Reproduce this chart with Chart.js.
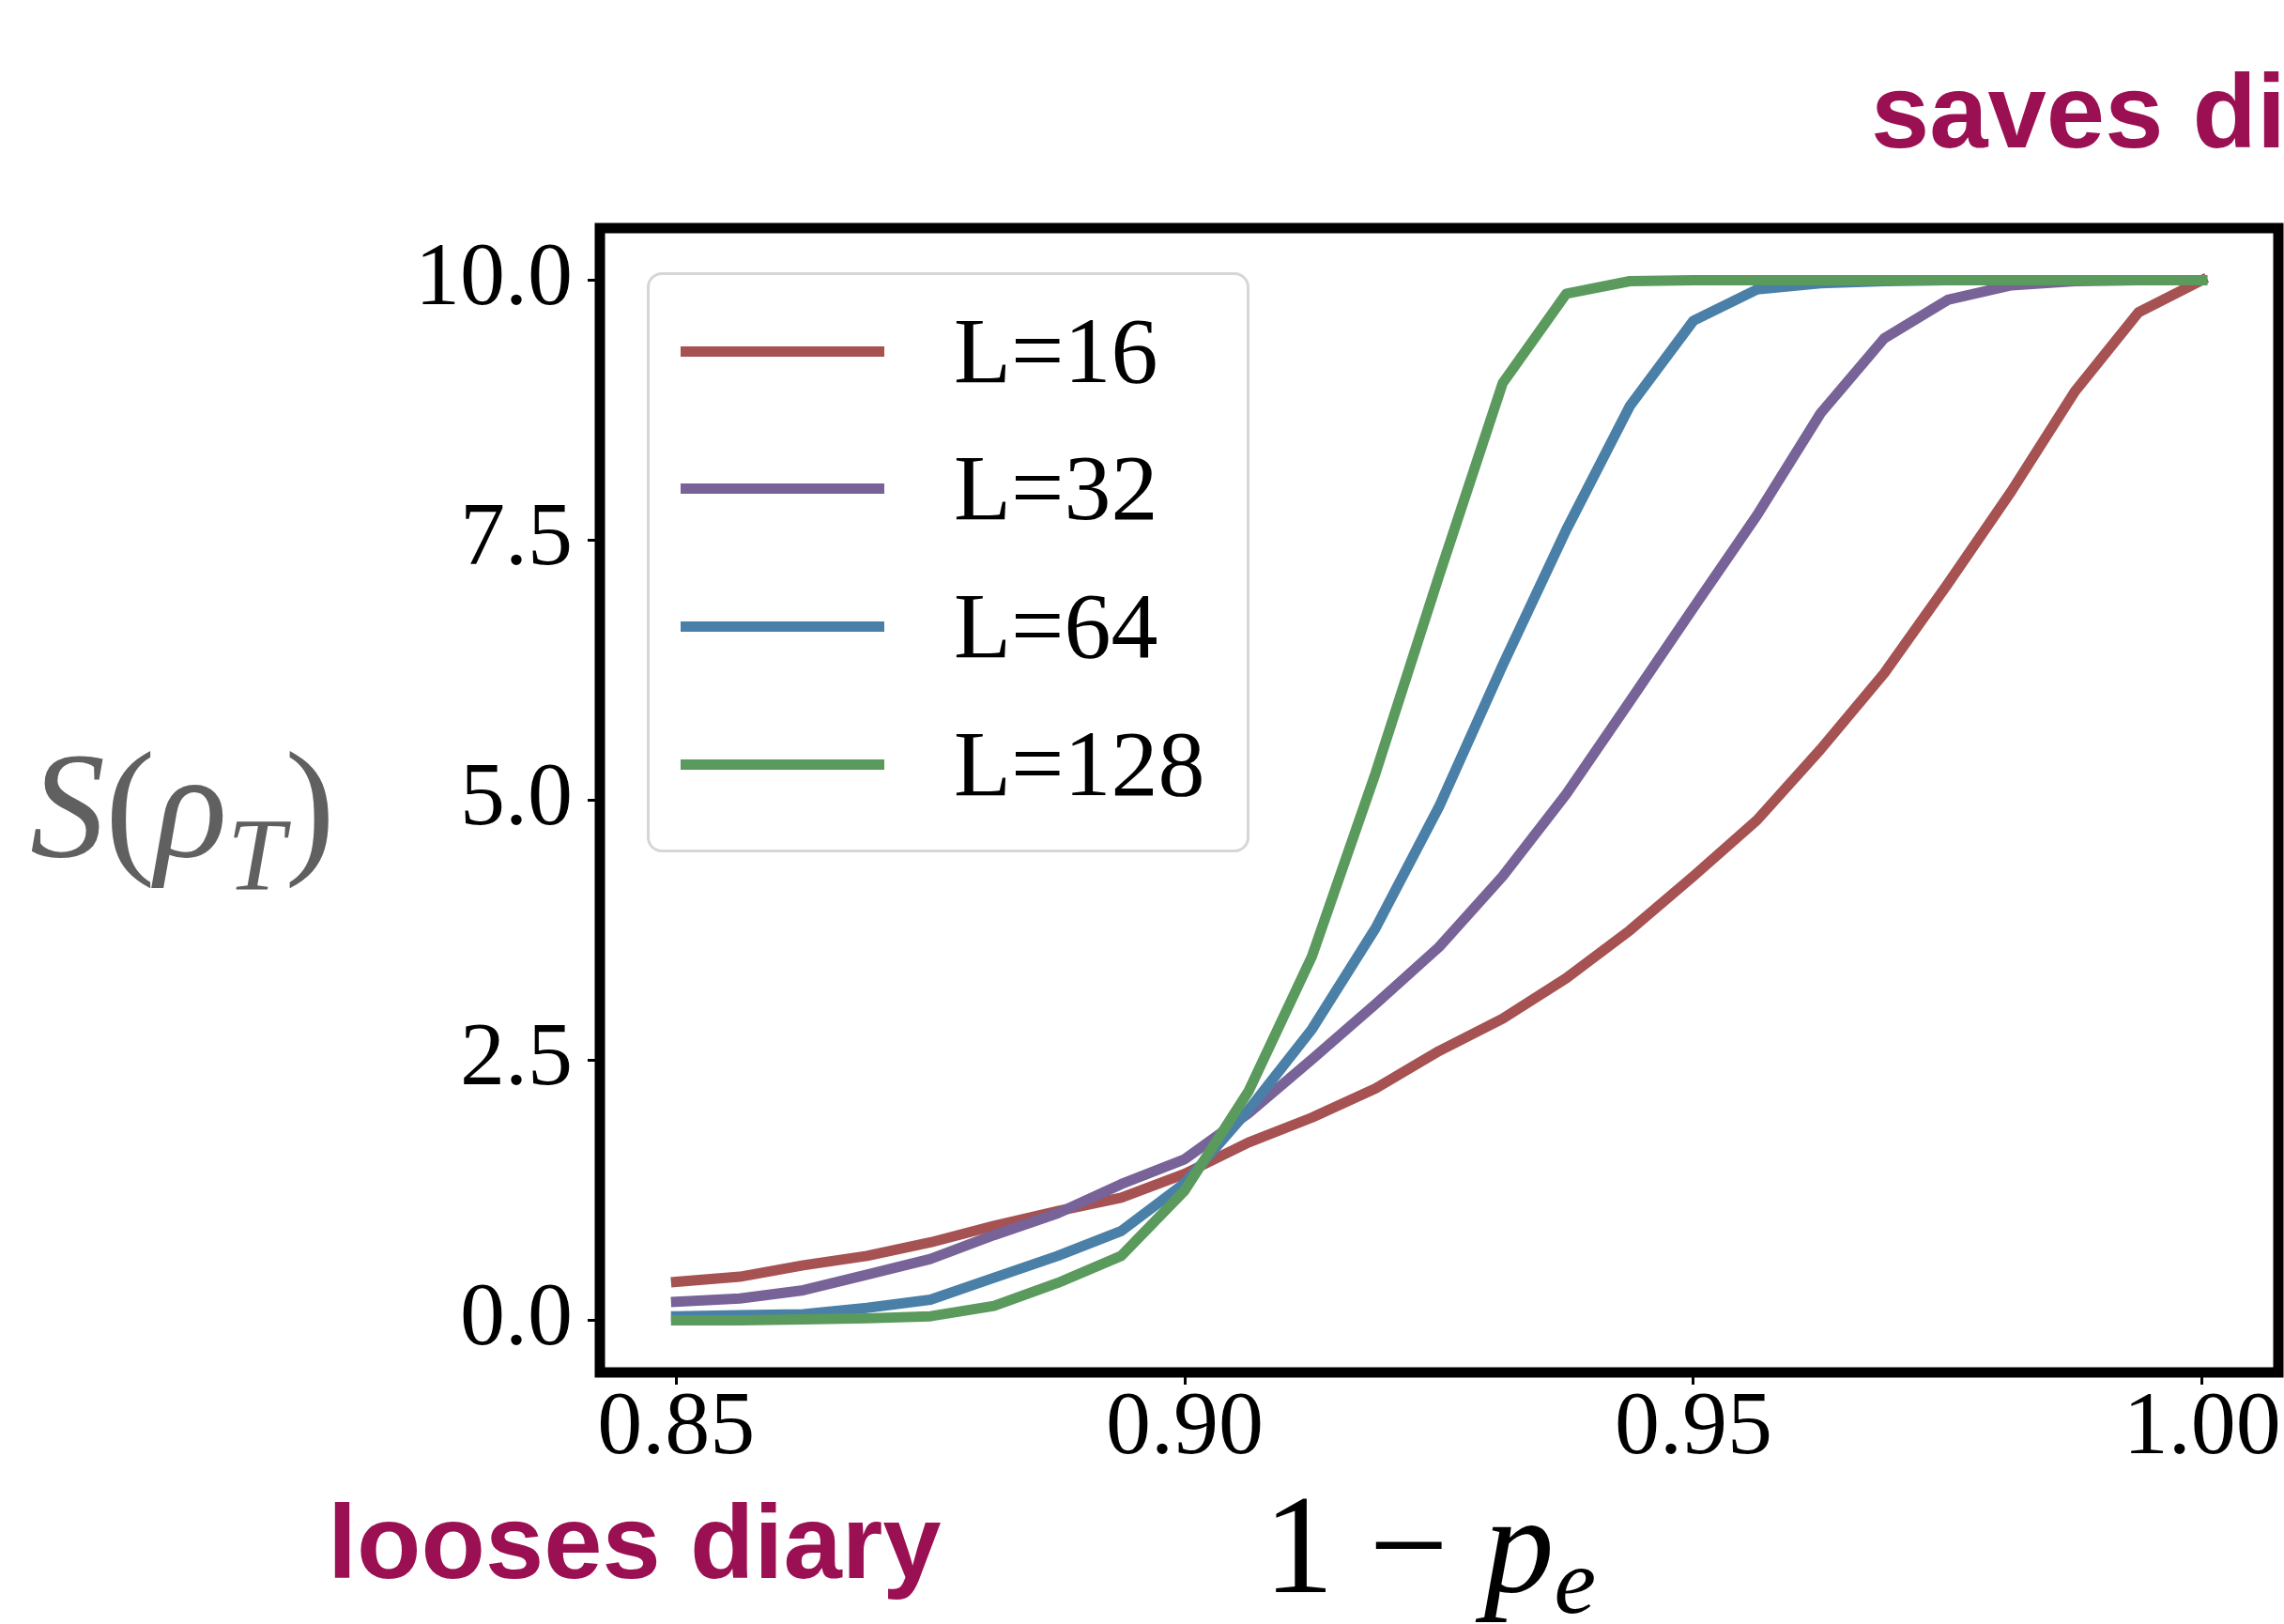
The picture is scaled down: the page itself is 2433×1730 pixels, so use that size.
<!DOCTYPE html>
<html>
<head>
<meta charset="utf-8">
<script src="https://cdn.jsdelivr.net/npm/chart.js"></script>
<style>
  html, body { margin: 0; padding: 0; background: #fff; overflow: hidden; }
  #wrap { position: relative; width: 2433px; height: 1730px; overflow: hidden; }
  #myChart { position: absolute; left: 0; top: 0; }
  .note { position: absolute; white-space: nowrap; line-height: 1;
          font-family: "Liberation Sans", Arial, sans-serif; font-weight: bold;
          font-size: 112px; color: #9b1052; }
  .math { position: absolute; white-space: nowrap; line-height: 1;
          font-family: "Liberation Serif", "Times New Roman", serif; }
  #legend { position: absolute; left: 689px; top: 290px; width: 636px; height: 612px;
            border: 3px solid #d6d6d6; border-radius: 16px; background: rgba(255,255,255,0.8); }
  .item { position: absolute; left: 0; height: 0; }
  .item .swatch { position: absolute; left: 33px; width: 217px; height: 11px; top: -5px; }
  .item .label { position: absolute; left: 324px; top: -50px; line-height: 1;
                 font-family: "Liberation Serif", serif; font-size: 100px; color: #000; white-space: nowrap; }
</style>
</head>
<body>
<div id="wrap">
  <canvas id="myChart" width="2433" height="1730"></canvas>
  <div id="legend"></div>
  <div class="note" style="left:1993px; top:63px;">saves diary</div>
  <div class="note" style="left:349px; top:1587px;">looses diary</div>
  <div class="math" style="left:32px; top:778px; font-size:160px; color:#606060;"><i>S</i>(<i>ρ</i><span style="font-size:0.69em; position:relative; top:0.33em;"><i>T</i></span>)</div>
  <div class="math" style="left:1523px; top:1570px; font-size:150px; color:#000; transform:translateX(-50%);">1 − <i>p</i><span style="font-size:0.67em; position:relative; top:0.22em;"><i>e</i></span></div>
</div>
<script>
const pe = [0.85, 0.85625, 0.8625, 0.86875, 0.875, 0.88125, 0.8875, 0.89375, 0.9,
            0.90625, 0.9125, 0.91875, 0.925, 0.93125, 0.9375, 0.94375, 0.95,
            0.95625, 0.9625, 0.96875, 0.975, 0.98125, 0.9875, 0.99375, 1.0];
const sL16 = [0.37, 0.42, 0.53, 0.62, 0.75, 0.91, 1.05, 1.18, 1.41, 1.71, 1.95, 2.23, 2.59,
              2.90, 3.29, 3.75, 4.27, 4.81, 5.49, 6.22, 7.08, 7.97, 8.93, 9.69, 10.0];
const sL32 = [0.18, 0.21, 0.29, 0.44, 0.59, 0.82, 1.03, 1.31, 1.55, 1.99, 2.51, 3.04, 3.59,
              4.27, 5.06, 5.95, 6.85, 7.74, 8.72, 9.44, 9.81, 9.95, 9.99, 10.0, 10.0];
const sL64 = [0.04, 0.05, 0.06, 0.12, 0.20, 0.41, 0.62, 0.86, 1.32, 2.02, 2.80, 3.77, 4.94,
              6.30, 7.60, 8.79, 9.61, 9.91, 9.97, 9.99, 10.0, 10.0, 10.0, 10.0, 10.0];
const sL128 = [0.0, 0.0, 0.01, 0.02, 0.04, 0.14, 0.36, 0.62, 1.25, 2.20, 3.50, 5.26, 7.16,
               9.01, 9.87, 9.99, 10.0, 10.0, 10.0, 10.0, 10.0, 10.0, 10.0, 10.0, 10.0];
const seriesNames = ["L=16", "L=32", "L=64", "L=128"];
const seriesColors = ["#a65252", "#776398", "#4a80a8", "#5a9a5d"];
const xTicks = [0.85, 0.90, 0.95, 1.00];
const yTicks = [0.0, 2.5, 5.0, 7.5, 10.0];

const allSeries = [sL16, sL32, sL64, sL128];
const datasets = allSeries.map((ys, k) => ({
  label: seriesNames[k],
  data: ys.map((y, i) => ({x: pe[i], y: y})),
  borderColor: seriesColors[k],
  borderWidth: 11,
  pointRadius: 0,
  tension: 0,
  borderJoinStyle: "round",
  borderCapStyle: "square",
  order: allSeries.length - k
}));

// black box around the plot, like matplotlib spines
const frame = {
  id: "frame",
  afterDatasetsDraw(chart) {
    const a = chart.chartArea, ctx = chart.ctx;
    ctx.save();
    ctx.strokeStyle = "#000";
    ctx.lineWidth = 11;
    ctx.strokeRect(a.left, a.top, a.right - a.left, a.bottom - a.top);
    ctx.restore();
  }
};

const tickFont = {family: "Liberation Serif", size: 96, lineHeight: 1};

const chart = new Chart("myChart", {
  type: "line",
  data: {datasets: datasets},
  options: {
    responsive: false,
    animation: false,
    devicePixelRatio: 1,
    layout: {padding: {left: 0, top: 243, right: 6, bottom: 0}},
    scales: {
      x: {
        type: "linear",
        min: 0.8425,
        max: 1.0075,
        afterFit: s => { s.height = 268; },
        afterBuildTicks: s => { s.ticks = xTicks.map(v => ({value: v})); },
        border: {display: false},
        grid: {drawOnChartArea: false, drawTicks: true, tickLength: 13, tickWidth: 3, tickColor: "#000"},
        ticks: {font: tickFont, color: "#000", padding: 0, maxRotation: 0, autoSkip: false,
                callback: v => v.toFixed(2)}
      },
      y: {
        min: -0.5,
        max: 10.5,
        afterFit: s => { s.width = 639; },
        afterBuildTicks: s => { s.ticks = yTicks.map(v => ({value: v})); },
        border: {display: false},
        grid: {drawOnChartArea: false, drawTicks: true, tickLength: 13, tickWidth: 3, tickColor: "#000"},
        ticks: {font: tickFont, color: "#000", padding: 16, autoSkip: false,
                callback: v => v.toFixed(1)}
      }
    },
    plugins: {
      legend: {display: false},
      tooltip: {enabled: false}
    }
  },
  plugins: [frame]
});

// legend box built from the chart's own datasets
const legendBox = document.getElementById("legend");
const rowY = [81, 227, 374, 521];
chart.data.datasets.forEach((ds, k) => {
  const row = document.createElement("div");
  row.className = "item";
  row.style.top = rowY[k] + "px";
  const sw = document.createElement("div");
  sw.className = "swatch";
  sw.style.background = ds.borderColor;
  const lb = document.createElement("div");
  lb.className = "label";
  lb.textContent = ds.label;
  row.appendChild(sw);
  row.appendChild(lb);
  legendBox.appendChild(row);
});
</script>
</body>
</html>
